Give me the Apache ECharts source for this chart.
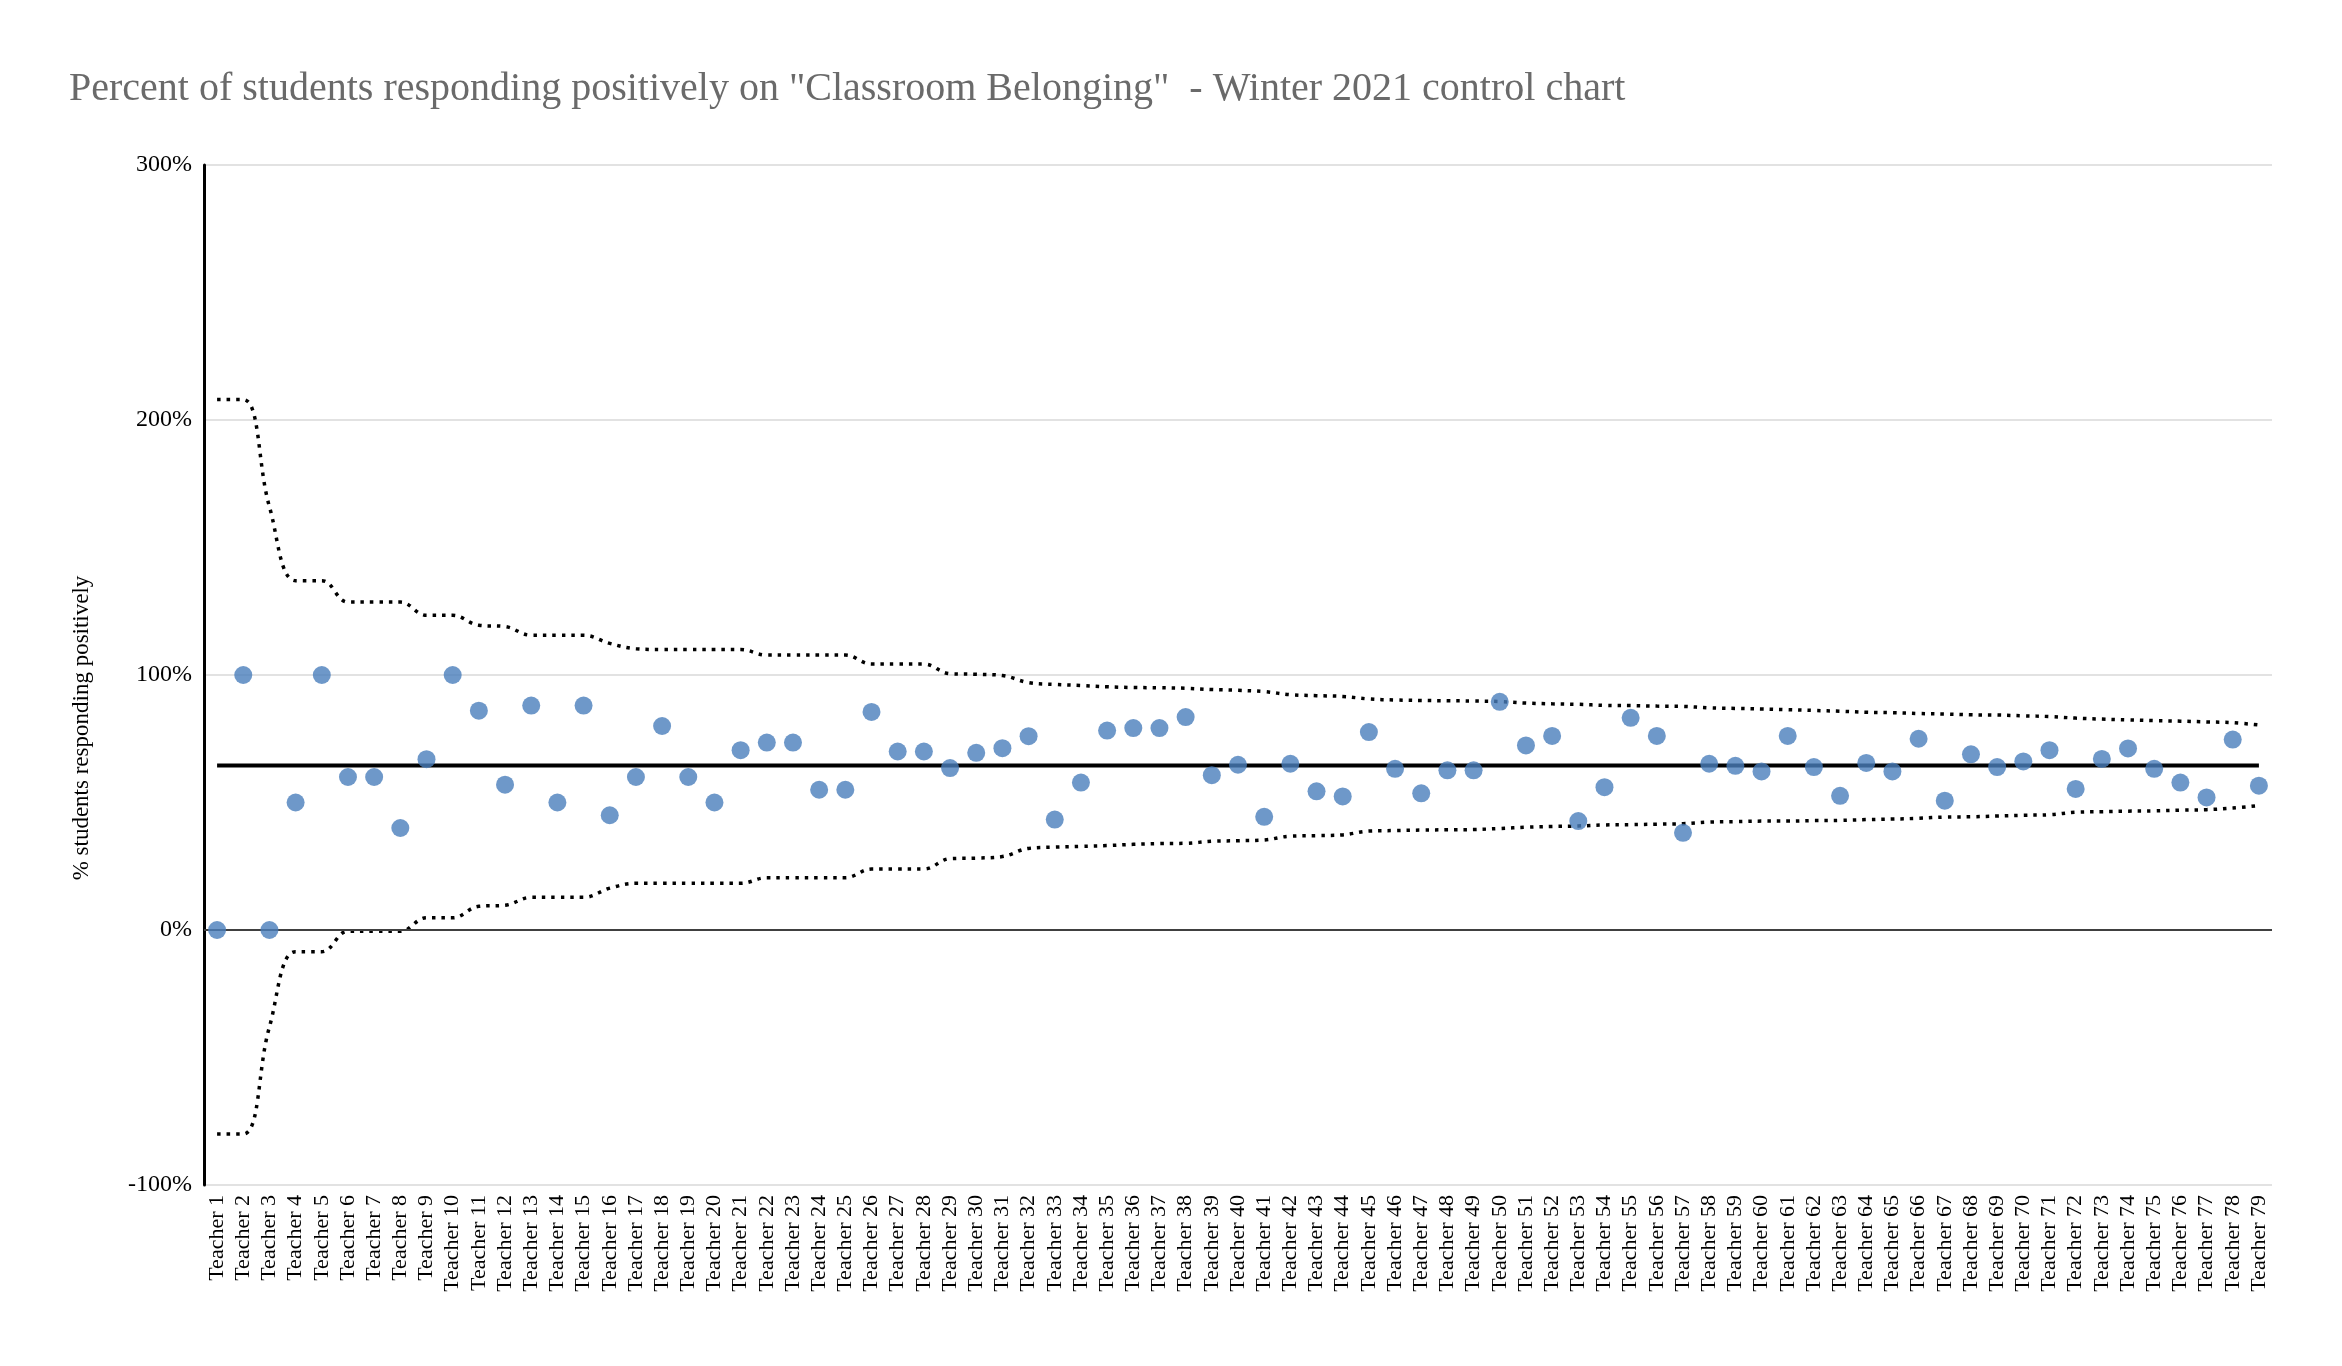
<!DOCTYPE html>
<html>
<head>
<meta charset="utf-8">
<script src="https://cdn.jsdelivr.net/npm/echarts@6/dist/echarts.min.js"></script>
<style>html,body{margin:0;padding:0;background:#fff}#c{width:2342px;height:1366px}</style>
</head>
<body>
<div id="c"></div>
<script>
const teachers = [];
for (let i = 1; i <= 79; i++) teachers.push('Teacher ' + i);

const pctPositive = [
  0, 100, 0, 50, 100, 60, 60, 40, 67, 100,
  86, 57, 88, 50, 88, 45, 60, 80, 60, 50,
  70.5, 73.5, 73.5, 55, 55, 85.5, 70, 70, 63.5, 69.5,
  71.3, 76, 43.3, 57.8, 78.2, 79.2, 79.2, 83.5, 60.7, 64.8,
  44.4, 65.2, 54.4, 52.4, 77.6, 63.2, 53.6, 62.6, 62.6, 89.5,
  72.4, 76.1, 42.7, 56, 83.2, 76.1, 38.1, 65.2, 64.4, 62.2,
  76.1, 63.9, 52.6, 65.5, 62.2, 75, 50.7, 68.9, 63.9, 66.1,
  70.5, 55.3, 67.1, 71.2, 63.2, 57.8, 52, 74.7, 56.6
];

const upperLimit = [
  208, 208, 166, 137, 137, 128.6, 128.6, 128.6, 123.4, 123.4,
  119.5, 119, 115.6, 115.6, 115.6, 112.4, 110.3, 110, 110, 110,
  110, 107.8, 107.8, 107.8, 107.8, 104.3, 104.3, 104.3, 100.5, 100.3,
  99.8, 97, 96.3, 95.9, 95.4, 95.1, 95, 94.8, 94.3, 94,
  93.5, 92.3, 91.9, 91.6, 90.6, 90.2, 90, 89.9, 89.8, 89.6,
  89, 88.7, 88.5, 88.1, 88, 87.8, 87.7, 87.1, 86.9, 86.7,
  86.4, 86.1, 85.8, 85.4, 85.2, 84.9, 84.7, 84.4, 84.3, 84,
  83.7, 83.1, 82.7, 82.4, 82.1, 81.9, 81.6, 81.3, 80.4
];

const lowerLimit = [
  -80, -80, -38, -8.5, -8.5, -0.5, -0.5, -0.5, 4.8, 4.8,
  9.3, 9.7, 12.8, 12.8, 12.8, 16.4, 18.3, 18.3, 18.3, 18.3,
  18.3, 20.5, 20.5, 20.5, 20.5, 23.9, 23.9, 23.9, 28, 28.2,
  28.8, 32, 32.5, 32.8, 33.1, 33.6, 33.9, 34, 34.8, 35,
  35.3, 36.8, 37, 37.3, 38.8, 39, 39.2, 39.3, 39.4, 39.8,
  40.3, 40.6, 40.8, 41.2, 41.3, 41.5, 41.7, 42.3, 42.5, 42.7,
  42.7, 42.9, 43, 43.3, 43.5, 43.8, 44.3, 44.4, 44.7, 45,
  45.2, 46.2, 46.4, 46.6, 46.7, 47, 47.2, 47.8, 48.8
];

const meanLine = teachers.map(() => 64.5);

const yTicks = { min: -100, max: 300, interval: 100 };

const serif = '"Liberation Serif", "DejaVu Serif", serif';

const chart = echarts.init(document.getElementById('c'));
chart.setOption({
  animation: false,
  backgroundColor: '#fff',
  title: {
    text: 'Percent of students responding positively on "Classroom Belonging"  - Winter 2021 control chart',
    left: 64, top: 64,
    textStyle: { fontFamily: serif, fontSize: 40, fontWeight: 'normal', color: '#6a6a6a' }
  },
  grid: { left: 204, right: 70, top: 165, bottom: 181, containLabel: false },
  graphic: [{
    type: 'text', x: 82, y: 728, rotation: Math.PI / 2,
    style: {
      text: '% students responding positively', fontFamily: serif, fontSize: 23,
      fill: '#000', align: 'center', verticalAlign: 'middle'
    }
  }],
  xAxis: {
    type: 'category', data: teachers, boundaryGap: true,
    axisLine: { show: false }, axisTick: { show: false },
    axisLabel: { interval: 0, rotate: 90, fontFamily: serif, fontSize: 22, color: '#000', margin: 10 }
  },
  yAxis: {
    type: 'value', min: yTicks.min, max: yTicks.max, interval: yTicks.interval,
    axisLine: { show: true, lineStyle: { color: '#000', width: 3 } },
    axisTick: { show: false },
    axisLabel: { formatter: '{value}%', fontFamily: serif, fontSize: 24, color: '#000', margin: 12 },
    splitLine: { show: true, lineStyle: { color: '#d9d9d9', width: 1.5 } }
  },
  series: [
    {
      type: 'line', data: upperLimit, smooth: 0.4, symbol: 'none',
      lineStyle: { color: '#000', width: 3.5, type: [3.5, 6] }, z: 2
    },
    {
      type: 'line', data: lowerLimit, smooth: 0.4, symbol: 'none',
      lineStyle: { color: '#000', width: 3.5, type: [3.5, 6] }, z: 2
    },
    {
      type: 'line', data: meanLine, symbol: 'none',
      lineStyle: { color: '#000', width: 4 }, z: 3,
      markLine: {
        silent: true, symbol: 'none', label: { show: false },
        lineStyle: { color: '#404040', width: 2, type: 'solid' },
        data: [{ yAxis: 0 }]
      }
    },
    {
      type: 'scatter', data: pctPositive, symbol: 'circle', symbolSize: 18,
      itemStyle: { color: '#4a7ebb' }, z: 5
    }
  ]
});
</script>
</body>
</html>
